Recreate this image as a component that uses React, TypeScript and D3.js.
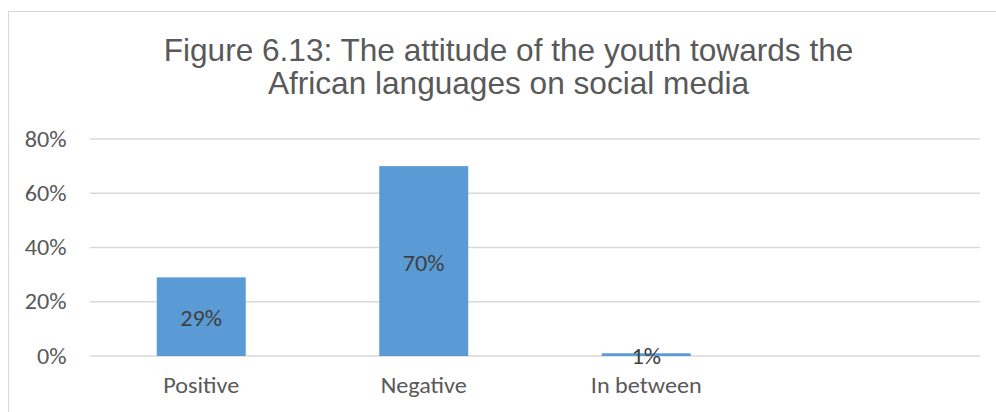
import React from "react";
import * as d3 from "d3";

const categories: string[] = ["Positive", "Negative", "In between", ""];
const values: (number | null)[] = [29, 70, 1, null];
const yTicks: number[] = [0, 20, 40, 60, 80];
const titleLines: string[] = [
  "Figure 6.13: The attitude of the youth towards the",
  "African languages on social media",
];

const W = 996;
const H = 412;
const plotLeft = 90;
const plotRight = 980;
const y0 = 356;
const yTop = 139;

const labelFont = "Carlito, Calibri, 'Open Sans', sans-serif";
const fs = 22;
const sx = 1.1;

function Label(props: {
  x: number;
  y: number;
  anchor: "start" | "middle" | "end";
  fill: string;
  dy?: string;
  children: React.ReactNode;
}) {
  return (
    <text
      transform={`translate(${props.x},${props.y}) scale(${sx},1)`}
      dy={props.dy}
      textAnchor={props.anchor}
      fontFamily={labelFont}
      fontSize={fs}
      fill={props.fill}
    >
      {props.children}
    </text>
  );
}

export default function App() {
  const x = d3
    .scaleBand<string>()
    .domain(categories.map((c, i) => c || `__empty${i}`))
    .range([plotLeft, plotRight])
    .paddingInner(0.6)
    .paddingOuter(0.3);
  const y = d3.scaleLinear().domain([0, 80]).range([y0, yTop]);
  const keys = x.domain();

  return (
    <svg
      width={W}
      height={H}
      style={{ position: "absolute", left: 0, top: 0, background: "#fff" }}
    >
      <rect x={8.5} y={11.5} width={1100} height={500} fill="#fff" stroke="#D9D9D9" strokeWidth={1} />
      {titleLines.map((t, i) => (
        <text
          key={i}
          x={508.5}
          y={61 + i * 33}
          textAnchor="middle"
          fontFamily="'Liberation Sans', Arial, sans-serif"
          fontSize={31.6}
          fill="#595959"
        >
          {t}
        </text>
      ))}
      {yTicks.map((t) => (
        <g key={t}>
          <line x1={plotLeft} x2={plotRight} y1={y(t)} y2={y(t)} stroke="#D9D9D9" strokeWidth={1.5} />
          <Label x={66.5} y={y(t)} dy="0.35em" anchor="end" fill="#595959">
            {t}%
          </Label>
        </g>
      ))}
      {values.map((v, i) =>
        v == null ? null : (
          <g key={i}>
            <rect
              x={x(keys[i])!}
              y={y(v)}
              width={x.bandwidth()}
              height={y0 - y(v)}
              fill="#5B9BD5"
            />
            <Label
              x={x(keys[i])! + x.bandwidth() / 2}
              y={(y(v) + y0) / 2 + 2}
              dy="0.35em"
              anchor="middle"
              fill="#404040"
            >
              {v}%
            </Label>
          </g>
        )
      )}
      {categories.map((c, i) =>
        c ? (
          <Label
            key={i}
            x={x(keys[i])! + x.bandwidth() / 2}
            y={393}
            anchor="middle"
            fill="#595959"
          >
            {c}
          </Label>
        ) : null
      )}
    </svg>
  );
}
